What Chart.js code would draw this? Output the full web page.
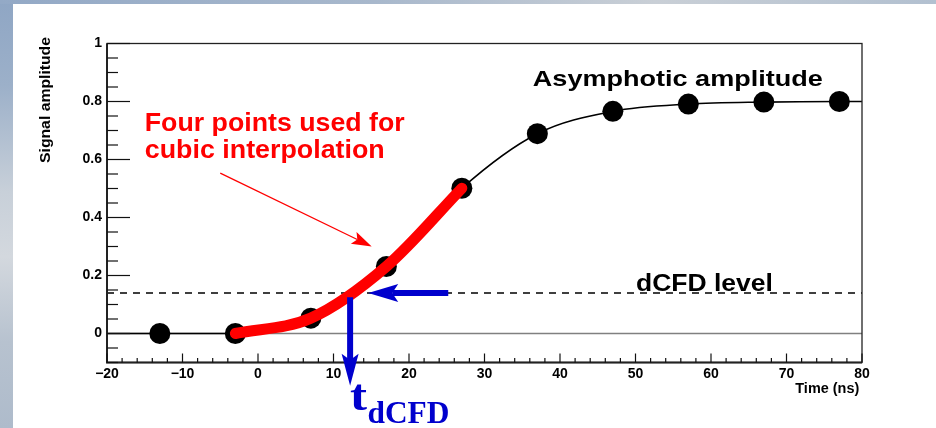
<!DOCTYPE html>
<html>
<head>
<meta charset="utf-8">
<script src="https://cdn.jsdelivr.net/npm/chart.js@4/dist/chart.umd.min.js"></script>
<style>
  html, body { margin: 0; padding: 0; width: 936px; height: 428px; overflow: hidden; background: #c3ccd6; }
  #left { position: absolute; left: 0; top: 0; width: 13px; height: 428px;
    background: linear-gradient(to bottom, #8fa6c4 0%, #9cb0c9 20%, #c8d0d9 45%, #d3d8de 60%, #b7c2cf 80%, #aebbcb 100%); }
  #top { position: absolute; left: 0; top: 0; width: 936px; height: 4px;
    background: linear-gradient(to right, #93a9c6 0%, #a8b8cc 40%, #c9cfd6 70%, #b2c0d0 100%); }
  #wrap { position: absolute; left: 13px; top: 4px; width: 923px; height: 424px; background: #fff; }
  canvas { display: block; }
</style>
</head>
<body>
<div id="left"></div>
<div id="top"></div>
<div id="wrap"><canvas id="c" width="923" height="424"></canvas></div>
<script>
// ---- data ----
const xTicks = [-20, -10, 0, 10, 20, 30, 40, 50, 60, 70, 80];
const yTicks = [0, 0.2, 0.4, 0.6, 0.8, 1];
const pointX = [-13, -3, 7, 17, 27, 37, 47, 57, 67, 77];
const pointY = [0, 0, 0.053, 0.231, 0.501, 0.689, 0.766, 0.791, 0.798, 0.80];
const interpX = [-3, 7, 17, 27];
const interpY = [0, 0.053, 0.231, 0.501];
const fitX = [-20, -13, -3, 7, 17, 27, 37, 47, 57, 67, 77, 80];
const fitY = [0, 0, 0, 0.053, 0.231, 0.501, 0.689, 0.766, 0.791, 0.798, 0.80, 0.80];
const levelX = [-20, 80];
const levelY = [0.14, 0.14];
const tdcfd = 12.2;          // crossing time (ns)
const dcfdLevel = 0.14;

const zip = (xs, ys) => xs.map((x, i) => ({ x, y: ys[i] }));
const fmt = v => {
  const s = (Math.round(v * 10) / 10).toString();
  return s.replace('-', '\u2212');
};
const SANS = '"Liberation Sans", Arial, Helvetica, sans-serif';
const SERIF = '"Liberation Serif", "Times New Roman", serif';

function drawText(ctx, s, px, py, font, color, targetW, align) {
  ctx.save();
  ctx.font = font; ctx.fillStyle = color;
  ctx.textBaseline = 'alphabetic'; ctx.textAlign = 'left';
  const w = ctx.measureText(s).width;
  const sx = targetW ? targetW / w : 1;
  ctx.translate(px - (align === 'right' ? w * sx : 0), py);
  ctx.scale(sx, 1);
  ctx.fillText(s, 0, 0);
  ctx.restore();
}

function arrow(ctx, x0, y0, x1, y1, color, shaftW, headL, headHW) {
  const ang = Math.atan2(y1 - y0, x1 - x0);
  const len = Math.hypot(x1 - x0, y1 - y0);
  ctx.save();
  ctx.translate(x0, y0); ctx.rotate(ang);
  ctx.strokeStyle = color; ctx.fillStyle = color;
  ctx.lineWidth = shaftW; ctx.lineCap = 'butt';
  ctx.beginPath(); ctx.moveTo(0, 0); ctx.lineTo(len - headL * 0.8, 0); ctx.stroke();
  ctx.beginPath();
  ctx.moveTo(len, 0);
  ctx.lineTo(len - headL, -headHW);
  ctx.lineTo(len - headL * 0.8, 0);
  ctx.lineTo(len - headL, headHW);
  ctx.closePath(); ctx.fill();
  ctx.restore();
}

const decor = {
  id: 'decor',
  beforeDatasetsDraw(chart) {
    const { ctx, chartArea: a, scales: { x, y } } = chart;
    ctx.save();
    // zero line
    ctx.strokeStyle = '#808080'; ctx.lineWidth = 1.5;
    const y0 = y.getPixelForValue(0);
    ctx.beginPath(); ctx.moveTo(a.left, y0); ctx.lineTo(a.right, y0); ctx.stroke();
    ctx.restore();
  },
  afterDatasetsDraw(chart) {
    const { ctx, chartArea: a, scales: { x, y } } = chart;
    ctx.save();
    // frame
    ctx.strokeStyle = '#222'; ctx.lineWidth = 1.3;
    ctx.strokeRect(a.left, a.top, a.right - a.left, a.bottom - a.top);
    ctx.lineWidth = 2;
    ctx.beginPath(); ctx.moveTo(a.left, a.top); ctx.lineTo(a.left, a.bottom); ctx.lineTo(a.right, a.bottom); ctx.stroke();
    // x ticks (inward)
    ctx.lineWidth = 1.2; ctx.strokeStyle = '#111';
    for (let v = -20; v <= 80.001; v += 2) {
      const px = x.getPixelForValue(v);
      const major = Math.abs(v % 10) < 1e-6;
      ctx.beginPath(); ctx.moveTo(px, a.bottom); ctx.lineTo(px, a.bottom - (major ? 9 : 4.5)); ctx.stroke();
    }
    // y ticks (inward)
    for (let i = -2; i <= 20; i++) {
      const v = i * 0.05;
      const py = y.getPixelForValue(v);
      const major = i % 4 === 0;
      ctx.beginPath(); ctx.moveTo(a.left, py); ctx.lineTo(a.left + (major ? 23 : 11), py); ctx.stroke();
    }
    ctx.restore();

    // axis titles
    drawText(ctx, 'Time (ns)', a.right - 2.7, 388.5, 'bold 14px ' + SANS, '#000', 64, 'right');
    ctx.save();
    ctx.translate(36.7, 33);
    ctx.rotate(-Math.PI / 2);
    drawText(ctx, 'Signal amplitude', 0, 0, 'bold 15px ' + SANS, '#000', 126, 'right');
    ctx.restore();

    // annotations
    const X = v => x.getPixelForValue(v), Y = v => y.getPixelForValue(v);
    drawText(ctx, 'Four points used for', X(-15), Y(0.697), 'bold 26px ' + SANS, '#ff0000', 260);
    drawText(ctx, 'cubic interpolation', X(-15), Y(0.606), 'bold 26px ' + SANS, '#ff0000', 240);
    drawText(ctx, 'Asymphotic amplitude', X(36.4), Y(0.852), 'bold 22px ' + SANS, '#000', 290);
    drawText(ctx, 'dCFD level', X(50.06), Y(0.145), 'bold 23px ' + SANS, '#000', 137);

    // red arrow
    arrow(ctx, X(-5.0), Y(0.553), X(15.06), Y(0.30), '#ff0000', 1.3, 20, 6.5);
    // blue arrows
    const blue = '#0000cd';
    arrow(ctx, X(25.2), Y(dcfdLevel), X(14.6), Y(dcfdLevel), blue, 6, 30, 9);
    arrow(ctx, X(tdcfd), Y(0.125), X(tdcfd), Y(-0.18), blue, 6, 32, 8.5);
    // t_dCFD label
    drawText(ctx, 't', X(tdcfd), Y(-0.263), 'bold 44px ' + SERIF, blue, 17);
    drawText(ctx, 'dCFD', X(14.5), Y(-0.31), 'bold 32px ' + SERIF, blue, 82);
  }
};

new Chart(document.getElementById('c'), {
  type: 'scatter',
  data: {
    datasets: [
      { label: 'interp', data: zip(interpX, interpY), showLine: true, borderColor: '#ff0000',
        borderWidth: 11, borderCapStyle: 'round', borderJoinStyle: 'round',
        cubicInterpolationMode: 'monotone', pointRadius: 0, order: 0 },
      { label: 'samples', data: zip(pointX, pointY), showLine: false, backgroundColor: '#000',
        borderColor: '#000', borderWidth: 0, pointRadius: 10.5, order: 1 },
      { label: 'fit', data: zip(fitX, fitY), showLine: true, borderColor: '#000', borderWidth: 1.6,
        cubicInterpolationMode: 'monotone', pointRadius: 0, order: 2 },
      { label: 'level', data: zip(levelX, levelY), showLine: true, borderColor: '#000', borderWidth: 1.5,
        borderDash: [7, 6], pointRadius: 0, order: 3 }
    ]
  },
  options: {
    responsive: false,
    animation: false,
    events: [],
    layout: { padding: { top: 39.5, right: 74, left: 0, bottom: 0 } },
    plugins: { legend: { display: false }, tooltip: { enabled: false } },
    scales: {
      x: {
        type: 'linear', min: -20, max: 80,
        afterBuildTicks: s => { s.ticks = xTicks.map(v => ({ value: v })); },
        afterFit: s => { s.height = 65.5; },
        grid: { display: false, drawTicks: false },
        border: { display: false },
        ticks: { color: '#000', padding: 3, maxRotation: 0, autoSkip: false,
          font: { family: SANS, size: 14, weight: 'bold' }, callback: v => fmt(v) }
      },
      y: {
        type: 'linear', min: -0.1, max: 1,
        afterBuildTicks: s => { s.ticks = yTicks.map(v => ({ value: v })); },
        afterFit: s => { s.width = 94; },
        grid: { display: false, drawTicks: false },
        border: { display: false },
        ticks: { color: '#000', padding: 5, autoSkip: false,
          font: { family: SANS, size: 14, weight: 'bold' }, callback: v => fmt(v) }
      }
    }
  },
  plugins: [decor]
});
</script>
</body>
</html>
